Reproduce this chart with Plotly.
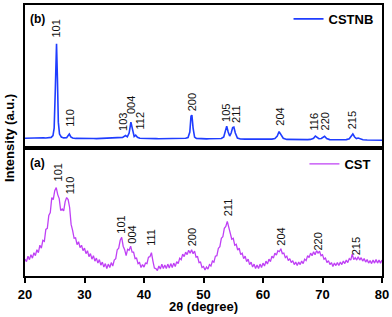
import plotly.graph_objects as go

# ---------------- data ----------------
# CSTNB (top panel) : 2theta / intensity (a.u.)
tt_cstnb = [20.0, 20.5, 21.0, 21.5, 22.0, 22.5, 22.8, 23.1, 23.5, 24.0, 24.4, 24.7, 24.9, 25.1, 25.3,
            25.45, 25.6, 25.8, 26.1, 26.5, 27.0, 27.2, 27.45, 27.7, 28.0, 28.5, 29.0, 29.5, 30.0, 30.5,
            31.0, 31.5, 32.0, 32.5, 33.0, 33.5, 34.0, 34.5, 35.0, 35.5, 36.0, 36.4, 36.9, 37.2, 37.5,
            37.8, 38.1, 38.35, 38.6, 38.9, 39.3, 39.8, 40.5, 41.0, 41.5, 42.0, 42.5, 43.0, 43.5, 44.0,
            44.5, 45.0, 45.5, 46.0, 46.5, 47.0, 47.4, 47.7, 47.9, 48.05, 48.25, 48.5, 48.8, 49.3, 50.0,
            50.5, 51.0, 51.5, 52.0, 52.5, 53.0, 53.4, 53.7, 53.9, 54.15, 54.4, 54.65, 54.9, 55.1, 55.35,
            55.7, 56.2, 57.0, 57.5, 58.0, 58.5, 59.0, 59.5, 60.0, 60.5, 61.0, 61.5, 62.0, 62.4, 62.7,
            63.0, 63.4, 64.0, 64.5, 65.0, 65.5, 66.0, 66.5, 67.0, 67.5, 68.0, 68.5, 68.8, 69.1, 69.4,
            69.8, 70.1, 70.35, 70.7, 71.2, 71.8, 72.5, 73.0, 73.5, 74.0, 74.5, 74.9, 75.1, 75.4, 75.7,
            76.0, 76.3, 76.8, 77.5, 78.0, 78.5, 79.0, 79.5, 80.0]
int_cstnb = [98, 100, 97, 99, 101, 104, 108, 103, 100, 102, 106, 125, 200, 600, 1050,
             700, 260, 140, 110, 101, 103, 120, 140, 112, 100, 96, 97, 95, 96, 94,
             96, 95, 94, 95, 94, 96, 95, 95, 96, 97, 100, 106, 125, 112, 150,
             260, 180, 115, 128, 108, 98, 96, 95, 94, 95, 94, 93, 94, 94, 93,
             93, 94, 93, 94, 95, 97, 105, 160, 320, 330, 200, 110, 96, 93, 92,
             91, 92, 91, 92, 93, 95, 110, 190, 220, 160, 120, 150, 205, 210, 150,
             100, 90, 89, 89, 88, 88, 88, 87, 88, 87, 88, 89, 95, 120, 165,
             130, 98, 86, 85, 85, 84, 85, 84, 84, 84, 86, 98, 120, 105, 93,
             95, 110, 118, 95, 84, 82, 82, 82, 83, 84, 92, 120, 140, 110, 95,
             100, 92, 83, 80, 80, 79, 79, 78, 78]

# CST (bottom panel) : sampled every 0.25 degree from 20 to 80
tt_cst = [round(20 + 0.25 * i, 2) for i in range(241)]
int_cst = [170, 145, 200, 165,   215, 180, 235, 205,   265, 235, 310, 280,   360, 350, 470, 480,
           610, 640, 790, 770,   860, 890, 820, 780,   660, 675, 655, 750,   790, 770, 690, 520,
           460, 380, 385, 315,   345, 285, 310, 255,   280, 225, 255, 195,   225, 170, 205, 150,
           180, 130, 165, 110,   140, 90, 125, 75,     120, 85, 135, 100,    160, 175, 265, 280,
           360, 390, 300, 265,   205, 270, 260, 300,   240, 240, 175, 180,   125, 135, 85, 115,
           90, 130, 125, 190,    195, 235, 150, 80,    75, 55, 100, 70,      120, 75, 110, 75,
           120, 80, 125, 85,     130, 95, 145, 125,    180, 165, 220, 195,   240, 215, 260, 230,
           265, 225, 250, 190,   195, 135, 140, 85,    95, 60, 90, 70,       115, 100, 150, 140,
           200, 205, 280, 295,   380, 395, 480, 500,   550, 480, 440, 370,   380, 310, 320, 260,
           280, 215, 230, 175,   200, 145, 170, 115,   140, 90, 120, 75,     110, 75, 120, 85,
           130, 100, 150, 120,   170, 145, 200, 180,   230, 210, 255, 245,   275, 225, 230, 185,
           200, 155, 175, 135,   155, 115, 140, 105,   140, 115, 150, 125,   170, 155, 205, 185,
           230, 205, 245, 215,   255, 230, 250, 205,   215, 170, 180, 135,   155, 115, 135, 95,
           130, 105, 135, 105,   140, 115, 150, 125,   160, 135, 175, 160,   220, 165, 185, 160,
           195, 160, 185, 150,   175, 140, 165, 130,   155, 125, 160, 130,   165, 130, 160, 130,
           160]

# peak (hkl) labels: text, 2theta position, label base intensity
lab_cstnb_text = ["101", "110", "103", "004", "112", "200", "105", "211", "204", "116", "220", "215"]
lab_cstnb_x = [25.18, 27.5, 36.46, 37.8, 39.4, 48.08, 53.76, 55.43, 62.95, 68.64, 70.48, 74.99]
lab_cstnb_y = [1090, 190, 150, 320, 170, 350, 240, 230, 200, 160, 160, 170]

lab_cst_text = ["101", "110", "101", "004", "111", "200", "211", "204", "220", "215"]
lab_cst_x = [25.5, 27.5, 36.2, 38.05, 41.2, 48.08, 54.26, 63.1, 69.3, 75.66]
lab_cst_y = [930, 800, 410, 310, 280, 280, 580, 290, 240, 190]

x_ticks = [20, 30, 40, 50, 60, 70, 80]

BLUE = "#1f3dff"
PURPLE = "#bf40f5"
FONT = "Liberation Sans, Arial, sans-serif"

fig = go.Figure()
fig.add_trace(go.Scatter(x=tt_cst, y=int_cst, mode="lines", name="CST",
                         line=dict(color=PURPLE, width=1.3), xaxis="x", yaxis="y",
                         legend="legend2"))
fig.add_trace(go.Scatter(x=tt_cstnb, y=int_cstnb, mode="lines", name="CSTNB",
                         line=dict(color=BLUE, width=1.6), xaxis="x2", yaxis="y2",
                         legend="legend"))

ann = []
for t, x, y in zip(lab_cstnb_text, lab_cstnb_x, lab_cstnb_y):
    ann.append(dict(text=t, x=x, y=y, xref="x2", yref="y2", showarrow=False, textangle=-90,
                    xanchor="center", yanchor="bottom", font=dict(size=11, color="#111", family=FONT)))
for t, x, y in zip(lab_cst_text, lab_cst_x, lab_cst_y):
    ann.append(dict(text=t, x=x, y=y, xref="x", yref="y", showarrow=False, textangle=-90,
                    xanchor="center", yanchor="bottom", font=dict(size=11, color="#111", family=FONT)))

SPLIT = 129 / 273
ann += [
    dict(text="<b>(b)</b>", x=0, y=1, xref="paper", yref="paper", xanchor="left", yanchor="middle",
         xshift=3, yshift=-14, showarrow=False, font=dict(size=12, color="black", family=FONT)),
    dict(text="<b>(a)</b>", x=0, y=SPLIT, xref="paper", yref="paper", xanchor="left", yanchor="middle",
         xshift=3, yshift=-15, showarrow=False, font=dict(size=12, color="black", family=FONT)),
    dict(text="<b>Intensity (a.u.)</b>", x=0, y=(276 - 137) / 273, xref="paper", yref="paper",
         xanchor="center", yanchor="middle", xshift=-16, textangle=-90, showarrow=False,
         font=dict(size=13, color="black", family=FONT)),
    dict(text="<b>2θ (degree)</b>", x=0.5, y=0, xref="paper", yref="paper",
         xanchor="center", yanchor="middle", yshift=-30, showarrow=False,
         font=dict(size=13, color="black", family=FONT)),
]

axline = dict(showline=True, linecolor="black", linewidth=2, mirror=True, showgrid=False, zeroline=False)

fig.update_layout(
    width=392, height=317,
    margin=dict(l=25, r=8, t=3, b=41),
    paper_bgcolor="white", plot_bgcolor="white",
    font=dict(family=FONT, color="black"),
    xaxis=dict(range=[20, 80], tickvals=x_ticks, ticks="outside", ticklen=5, tickwidth=2,
               tickcolor="black", tickfont=dict(size=13, family=FONT, weight="bold"),
               anchor="y", **axline),
    xaxis2=dict(range=[20, 80], matches="x", anchor="y2", showticklabels=False, ticks="", **axline),
    yaxis=dict(domain=[0, SPLIT], range=[0, 1290], showticklabels=False, ticks="", anchor="x", **axline),
    yaxis2=dict(domain=[SPLIT, 1], range=[0, 1440], showticklabels=False, ticks="", anchor="x2", **axline),
    legend=dict(x=(290 - 25) / 359, y=(276 - 17) / 273, xanchor="left", yanchor="middle",
                bgcolor="rgba(0,0,0,0)", borderwidth=0, itemwidth=30,
                font=dict(size=13, family=FONT, weight="bold", color="black")),
    legend2=dict(x=(306 - 25) / 359, y=(276 - 163) / 273, xanchor="left", yanchor="middle",
                 bgcolor="rgba(0,0,0,0)", borderwidth=0, itemwidth=30,
                 font=dict(size=13, family=FONT, weight="bold", color="black")),
    annotations=ann,
    showlegend=True,
)

fig.write_html("out.html", config={"displayModeBar": False},
               post_script="document.body.style.margin='0';")
